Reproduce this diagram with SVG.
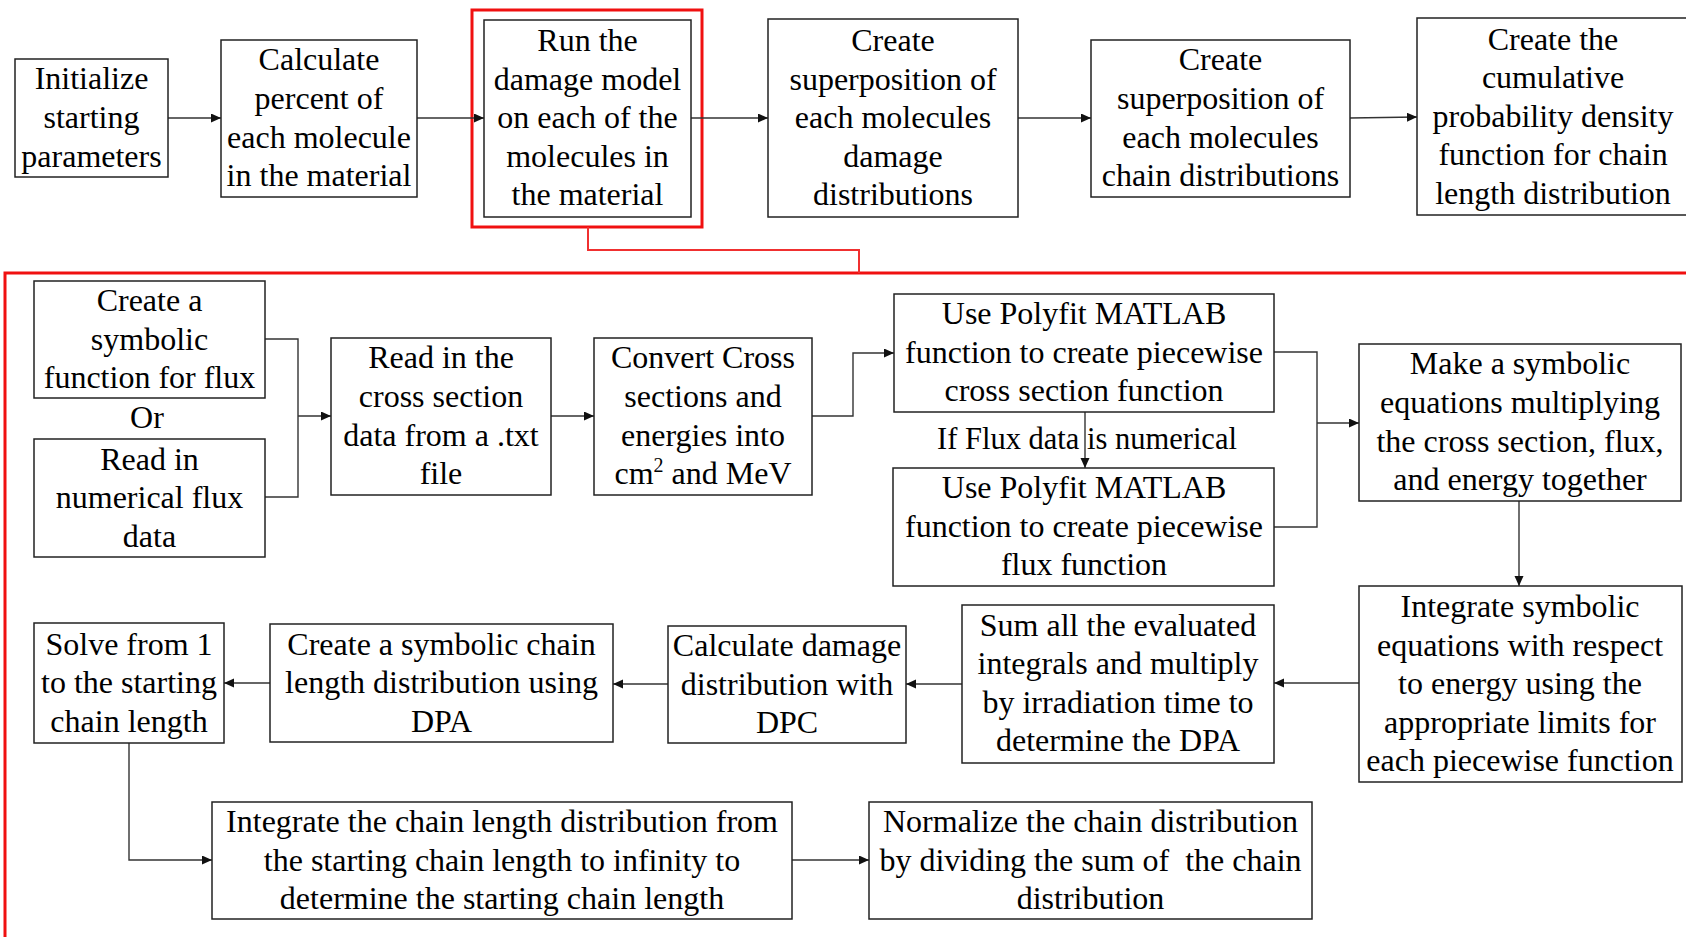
<svg xmlns="http://www.w3.org/2000/svg" width="1686" height="937" viewBox="0 0 1686 937">
<style>
.box{fill:#fff;stroke:#222;stroke-width:1.5}
.t{font-family:"Liberation Serif","Times New Roman",serif;font-size:32px;fill:#000;text-anchor:middle}
.c{fill:none;stroke:#333;stroke-width:1.4}
.red{fill:none;stroke:#f01010;stroke-width:3}
.redc{fill:none;stroke:#f03030;stroke-width:2}
</style>
<defs>
<marker id="ah" markerUnits="userSpaceOnUse" markerWidth="11" markerHeight="10" refX="10" refY="4.5" orient="auto">
<path d="M0,0 L10,4.5 L0,9 z" fill="#111"/>
</marker>
</defs>
<rect width="1686" height="937" fill="#fff"/>

<!-- red frames -->
<rect class="red" x="472" y="10" width="230" height="217"/>
<rect class="red" x="5" y="273" width="1700" height="700"/>

<g id="connectors">
<polyline class="redc" points="588,227 588,250 859,250 859,273"/>
<line class="c" x1="168" y1="118" x2="221" y2="118" marker-end="url(#ah)"/>
<line class="c" x1="417" y1="118" x2="484" y2="118" marker-end="url(#ah)"/>
<line class="c" x1="691" y1="118" x2="768" y2="118" marker-end="url(#ah)"/>
<line class="c" x1="1018" y1="118" x2="1091" y2="118" marker-end="url(#ah)"/>
<line class="c" x1="1350" y1="118" x2="1417" y2="117" marker-end="url(#ah)"/>
<polyline class="c" points="265,339 298,339 298,497 265,497"/>
<line class="c" x1="298" y1="416" x2="331" y2="416" marker-end="url(#ah)"/>
<line class="c" x1="551" y1="416" x2="594" y2="416" marker-end="url(#ah)"/>
<polyline class="c" points="812,416 853,416 853,353 894,353" marker-end="url(#ah)"/>
<line class="c" x1="1085" y1="412" x2="1085" y2="468" marker-end="url(#ah)"/>
<polyline class="c" points="1274,352 1317,352 1317,527 1274,527"/>
<line class="c" x1="1317" y1="423" x2="1359" y2="423" marker-end="url(#ah)"/>
<line class="c" x1="1519" y1="501" x2="1519" y2="586" marker-end="url(#ah)"/>
<line class="c" x1="1359" y1="683" x2="1274" y2="683" marker-end="url(#ah)"/>
<line class="c" x1="962" y1="684" x2="906" y2="684" marker-end="url(#ah)"/>
<line class="c" x1="668" y1="684" x2="613" y2="684" marker-end="url(#ah)"/>
<line class="c" x1="270" y1="683" x2="224" y2="683" marker-end="url(#ah)"/>
<polyline class="c" points="129,743 129,860 212,860" marker-end="url(#ah)"/>
<line class="c" x1="792" y1="860" x2="869" y2="860" marker-end="url(#ah)"/>
</g>

<g id="init">
<rect class="box" x="15" y="59" width="153" height="118"/>
<text class="t" x="91.5" y="89">Initialize</text>
<text class="t" x="91.5" y="128">starting</text>
<text class="t" x="91.5" y="167">parameters</text>
</g>
<g id="calc-percent">
<rect class="box" x="221" y="40" width="196" height="157"/>
<text class="t" x="319" y="70">Calculate</text>
<text class="t" x="319" y="109">percent of</text>
<text class="t" x="319" y="148">each molecule</text>
<text class="t" x="319" y="186">in the material</text>
</g>
<g id="run-model">
<rect class="box" x="484" y="20" width="207" height="197"/>
<text class="t" x="587.5" y="51">Run the</text>
<text class="t" x="587.5" y="89.5">damage model</text>
<text class="t" x="587.5" y="128">on each of the</text>
<text class="t" x="587.5" y="166.5">molecules in</text>
<text class="t" x="587.5" y="205">the material</text>
</g>
<g id="sup-damage">
<rect class="box" x="768" y="19" width="250" height="198"/>
<text class="t" x="893" y="51">Create</text>
<text class="t" x="893" y="89.5">superposition of</text>
<text class="t" x="893" y="128">each molecules</text>
<text class="t" x="893" y="166.5">damage</text>
<text class="t" x="893" y="205">distributions</text>
</g>
<g id="sup-chain">
<rect class="box" x="1091" y="40" width="259" height="157"/>
<text class="t" x="1220.5" y="70">Create</text>
<text class="t" x="1220.5" y="109">superposition of</text>
<text class="t" x="1220.5" y="147.5">each molecules</text>
<text class="t" x="1220.5" y="186">chain distributions</text>
</g>
<g id="cumulative">
<rect class="box" x="1417" y="18" width="273" height="197"/>
<text class="t" x="1553" y="49.5">Create the</text>
<text class="t" x="1553" y="88">cumulative</text>
<text class="t" x="1553" y="126.5">probability density</text>
<text class="t" x="1553" y="165">function for chain</text>
<text class="t" x="1553" y="203.5">length distribution</text>
</g>

<g id="flux-symbolic">
<rect class="box" x="34" y="281" width="231" height="117"/>
<text class="t" x="149.5" y="311">Create a</text>
<text class="t" x="149.5" y="349.5">symbolic</text>
<text class="t" x="149.5" y="388">function for flux</text>
</g>
<g id="or-label">
<text class="t" x="147" y="428">Or</text>
</g>
<g id="flux-numerical">
<rect class="box" x="34" y="439" width="231" height="118"/>
<text class="t" x="149.5" y="469.5">Read in</text>
<text class="t" x="149.5" y="508">numerical flux</text>
<text class="t" x="149.5" y="546.5">data</text>
</g>
<g id="read-cross">
<rect class="box" x="331" y="338" width="220" height="157"/>
<text class="t" x="441" y="368">Read in the</text>
<text class="t" x="441" y="407">cross section</text>
<text class="t" x="441" y="445.5">data from a .txt</text>
<text class="t" x="441" y="484">file</text>
</g>
<g id="convert">
<rect class="box" x="594" y="338" width="218" height="157"/>
<text class="t" x="703" y="368">Convert Cross</text>
<text class="t" x="703" y="407">sections and</text>
<text class="t" x="703" y="445.5">energies into</text>
<text class="t" x="703" y="484">cm<tspan font-size="20" dy="-12">2</tspan><tspan dy="12"> and MeV</tspan></text>
</g>
<g id="polyfit-cross">
<rect class="box" x="894" y="294" width="380" height="118"/>
<text class="t" x="1084" y="324">Use Polyfit MATLAB</text>
<text class="t" x="1084" y="362.5">function to create piecewise</text>
<text class="t" x="1084" y="401">cross section function</text>
</g>
<g id="if-label">
<text class="t" x="1087" y="449" style="font-size:30.5px">If Flux data is numerical</text>
</g>
<g id="polyfit-flux">
<rect class="box" x="893" y="468" width="381" height="118"/>
<text class="t" x="1084" y="498">Use Polyfit MATLAB</text>
<text class="t" x="1084" y="536.5">function to create piecewise</text>
<text class="t" x="1084" y="575">flux function</text>
</g>
<g id="make-symbolic">
<rect class="box" x="1359" y="344" width="322" height="157"/>
<text class="t" x="1520" y="374">Make a symbolic</text>
<text class="t" x="1520" y="413">equations multiplying</text>
<text class="t" x="1520" y="451.5">the cross section, flux,</text>
<text class="t" x="1520" y="490">and energy together</text>
</g>
<g id="integrate-symbolic">
<rect class="box" x="1359" y="586" width="323" height="196"/>
<text class="t" x="1520" y="617">Integrate symbolic</text>
<text class="t" x="1520" y="655.5">equations with respect</text>
<text class="t" x="1520" y="694">to energy using the</text>
<text class="t" x="1520" y="732.5">appropriate limits for</text>
<text class="t" x="1520" y="771">each piecewise function</text>
</g>
<g id="sum-integrals">
<rect class="box" x="962" y="605" width="312" height="158"/>
<text class="t" x="1118" y="635.5">Sum all the evaluated</text>
<text class="t" x="1118" y="674">integrals and multiply</text>
<text class="t" x="1118" y="712.5">by irradiation time to</text>
<text class="t" x="1118" y="751">determine the DPA</text>
</g>
<g id="calc-damage">
<rect class="box" x="668" y="626" width="238" height="117"/>
<text class="t" x="787" y="656">Calculate damage</text>
<text class="t" x="787" y="694.5">distribution with</text>
<text class="t" x="787" y="733">DPC</text>
</g>
<g id="create-chain">
<rect class="box" x="270" y="624" width="343" height="118"/>
<text class="t" x="441.5" y="654.5">Create a symbolic chain</text>
<text class="t" x="441.5" y="693">length distribution using</text>
<text class="t" x="441.5" y="731.5">DPA</text>
</g>
<g id="solve">
<rect class="box" x="34" y="623" width="190" height="120"/>
<text class="t" x="129" y="654.5">Solve from 1</text>
<text class="t" x="129" y="693">to the starting</text>
<text class="t" x="129" y="731.5">chain length</text>
</g>
<g id="integrate-chain">
<rect class="box" x="212" y="802" width="580" height="117"/>
<text class="t" x="502" y="832">Integrate the chain length distribution from</text>
<text class="t" x="502" y="870.5">the starting chain length to infinity to</text>
<text class="t" x="502" y="909">determine the starting chain length</text>
</g>
<g id="normalize">
<rect class="box" x="869" y="802" width="443" height="117"/>
<text class="t" x="1090.5" y="832">Normalize the chain distribution</text>
<text class="t" x="1090.5" y="870.5">by dividing the sum of&#160; the chain</text>
<text class="t" x="1090.5" y="909">distribution</text>
</g>
</svg>
